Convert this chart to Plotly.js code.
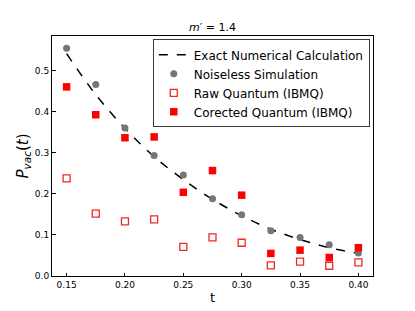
<!DOCTYPE html>
<html>
<head>
<meta charset="utf-8">
<script src="https://cdn.plot.ly/plotly-3.0.1.min.js"></script>
<style>html,body{margin:0;padding:0;background:#fff;}#chart{width:415px;height:311px;}</style>
</head>
<body>
<div id="chart"></div>
<script>
const tValues = [0.15, 0.175, 0.2, 0.225, 0.25, 0.275, 0.3, 0.325, 0.35, 0.375, 0.4];
const exactCurve = [0.542, 0.442, 0.360, 0.291, 0.235, 0.187, 0.147, 0.114, 0.089, 0.069, 0.055];
const noiseless = [0.555, 0.467, 0.361, 0.294, 0.246, 0.188, 0.149, 0.110, 0.094, 0.076, 0.056];
const rawQuantum = [0.238, 0.152, 0.133, 0.138, 0.071, 0.094, 0.081, 0.026, 0.035, 0.025, 0.033];
const correctedQuantum = [0.461, 0.393, 0.337, 0.339, 0.204, 0.257, 0.197, 0.055, 0.063, 0.045, 0.069];
const xTicks = [0.15, 0.2, 0.25, 0.3, 0.35, 0.4];
const yTicks = [0.0, 0.1, 0.2, 0.3, 0.4, 0.5];
const chartTitle = '<i>m′</i> = 1.4';

const font = 'DejaVu Sans, sans-serif';
const traces = [
  {x: tValues, y: exactCurve, mode: 'lines', name: 'Exact Numerical Calculation',
   line: {color: 'black', dash: 'dash', width: 1.5, shape: 'spline'}},
  {x: tValues, y: noiseless, mode: 'markers', name: 'Noiseless Simulation',
   marker: {color: 'rgb(118,118,118)', size: 7, symbol: 'circle'}},
  {x: tValues, y: rawQuantum, mode: 'markers', name: 'Raw Quantum (IBMQ)',
   marker: {color: 'white', size: 7, symbol: 'square', line: {color: 'rgb(240,40,40)', width: 1.3}}},
  {x: tValues, y: correctedQuantum, mode: 'markers', name: 'Corected Quantum (IBMQ)',
   marker: {color: 'red', size: 7.5, symbol: 'square'}}
];
const layout = {
  width: 415, height: 311,
  margin: {l: 52, r: 42, t: 36, b: 35},
  paper_bgcolor: 'white', plot_bgcolor: 'white',
  font: {family: font, color: 'black', size: 9},
  annotations: [{text: chartTitle, xref: 'paper', yref: 'paper', x: 0.5, y: 1.036,
    xanchor: 'center', yanchor: 'middle', showarrow: false,
    font: {size: 11, family: font, color: 'black'}}],
  xaxis: {
    range: [0.1375, 0.4125], tickvals: xTicks, ticktext: xTicks.map(v => v.toFixed(2)),
    ticks: 'inside', ticklen: 3.5, tickcolor: 'black', showgrid: false, zeroline: false,
    showline: true, linecolor: 'black', linewidth: 1, mirror: true,
    tickfont: {size: 9}, title: {text: 't', font: {size: 13}, standoff: 4}
  },
  yaxis: {
    range: [0, 0.585], tickvals: yTicks, ticktext: yTicks.map(v => v.toFixed(1)),
    ticks: 'inside', ticklen: 3.5, tickcolor: 'black', showgrid: false, zeroline: false,
    showline: true, linecolor: 'black', linewidth: 1, mirror: true,
    tickfont: {size: 9}, title: {text: '<i>P</i><sub><i>vac</i></sub>(<i>t</i>)', font: {size: 15}, standoff: 2}
  },
  legend: {x: 0.99, y: 0.986, xanchor: 'right', yanchor: 'top', bgcolor: 'white',
    bordercolor: 'rgb(60,60,60)', borderwidth: 1, font: {size: 12}, tracegroupgap: 0,
    itemwidth: 30},
  showlegend: true
};
Plotly.newPlot('chart', traces, layout, {staticPlot: true});
</script>
</body>
</html>
